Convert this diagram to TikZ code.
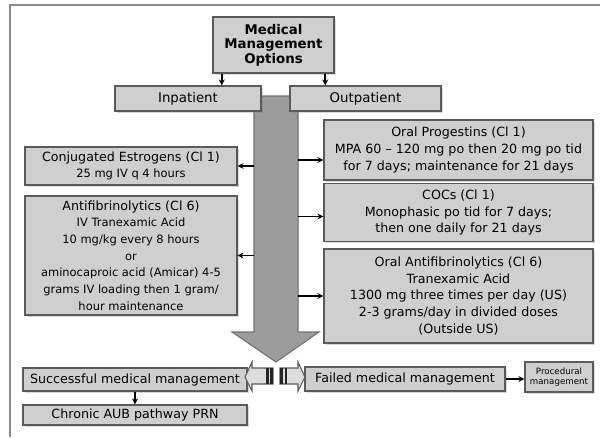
\documentclass[tikz,border=0pt]{standalone}
\usepackage{fontspec}
\setmainfont{DejaVu Sans}
\usetikzlibrary{arrows.meta,shadows}
\definecolor{boxfill}{HTML}{CFCFCF}
\definecolor{boxline}{HTML}{5A5A5A}
\definecolor{bigfill}{HTML}{9C9C9C}
\definecolor{bigline}{HTML}{707070}
\definecolor{framegray}{HTML}{8A8A8A}

\tikzset{
  box/.style={draw=boxline, fill=boxfill, line width=0.9pt, align=center, inner sep=1pt,
    drop shadow={shadow xshift=1.2pt, shadow yshift=-1.2pt, opacity=0.3},
    font=\fontsize{9.5}{12.5}\selectfont},
  sz/.style 2 args={minimum width=#1*0.75pt, minimum height=#2*0.75pt},
  arr/.style={-{Stealth[length=4.5pt,width=4.5pt]}, line width=1.25pt, black},
  hollow/.style={draw=boxline, fill=boxfill!70!white, line width=0.8pt},
  stripe/.style={fill=black!85},
}
\newcommand{\sml}{\fontsize{8.6}{11.5}\selectfont}

\begin{document}
\begin{tikzpicture}[x=0.75pt, y=-0.75pt]
\useasboundingbox (0,0) rectangle (600,437);
\draw[framegray, line width=1.5pt] (10,437) -- (10,5) -- (600,5);

% big arrow down the middle
\draw[bigline, line width=0.8pt, fill=bigfill]
  (254,96) -- (298,96) -- (298,332) -- (319,332) -- (276,362) -- (232,332) -- (254,332) -- cycle;
\coordinate (sl) at (254,96);
\coordinate (sr) at (298,96);

% top
\node[box, sz={121}{56}, font=\bfseries\fontsize{10}{11}\selectfont] (mmo) at (273.5,45) {Medical\\Management\\Options};
\node[box, sz={146}{25}, font=\fontsize{10}{12}\selectfont] (inpat) at (188,98.5) {Inpatient};
\node[box, sz={151}{25}, font=\fontsize{10}{12}\selectfont] (outpat) at (365.5,98.5) {Outpatient};

% inpatient side
\node[box, sz={212}{38}] (conj) at (131,166) {Conjugated Estrogens (Cl 1)\\{\sml 25 mg IV q 4 hours}};
\node[box, sz={212}{119}] (antif) at (131,255.5) {Antifibrinolytics (Cl 6)\\{\sml IV Tranexamic Acid}\\{\sml 10 mg/kg every 8 hours}\\{\sml or}\\{\sml aminocaproic acid (Amicar) 4-5}\\{\sml grams IV loading then 1 gram/}\\{\sml hour maintenance}};

% outpatient side
\node[box, sz={269}{60}] (prog) at (458.5,150) {Oral Progestins (Cl 1)\\MPA 60 -- 120 mg po then 20 mg po tid\\for 7 days; maintenance for 21 days};
\node[box, sz={269}{58}] (cocs) at (458.5,212.5) {COCs (Cl 1)\\Monophasic po tid for 7 days;\\then one daily for 21 days};
\node[box, sz={269}{94}] (oanti) at (458.5,296) {Oral Antifibrinolytics (Cl 6)\\Tranexamic Acid\\1300 mg three times per day (US)\\2-3 grams/day in divided doses\\(Outside US)};

% outcomes
\node[box, sz={224}{23}] (succ) at (135,379.5) {Successful medical management};
\node[box, sz={224}{20}] (chron) at (135,415) {Chronic AUB pathway PRN};
\node[box, sz={200}{24}] (fail) at (405,379) {Failed medical management};
\node[box, sz={68}{30}, font=\fontsize{6.5}{8}\selectfont] (proc) at (559,377) {Procedural\\management};

% striped block arrows
\draw[hollow] (245,377) -- (252,362) -- (252,368) -- (273,368) -- (273,384) -- (252,384) -- (252,391) -- cycle;
\fill[stripe] (266,368) rectangle (268.5,384);
\fill[stripe] (270,368) rectangle (273,384);
\draw[hollow] (305,377) -- (298,362) -- (298,368) -- (280,368) -- (280,384) -- (298,384) -- (298,391) -- cycle;
\fill[stripe] (280,368) rectangle (283,384);
\fill[stripe] (284.5,368) rectangle (287,384);

% connectors
\draw[arr] ([xshift=7pt]mmo.south west) -- ([xshift=7pt]mmo.south west |- inpat.north);
\draw[arr] ([xshift=-7pt]mmo.south east) -- ([xshift=-7pt]mmo.south east |- outpat.north);
\draw[arr] (sl |- conj.east) -- (conj.east);
\draw[arr] (sl |- antif.east) -- (antif.east);
\draw[arr] ([yshift=-7.5pt]sr |- prog.west) -- ([yshift=-7.5pt]prog.west);
\draw[arr] ([yshift=-3pt]sr |- cocs.west) -- ([yshift=-3pt]cocs.west);
\draw[arr] (sr |- oanti.west) -- (oanti.west);
\draw[arr] (succ) -- (chron);
\draw[arr] (fail.east) -- (fail.east -| proc.west);
\end{tikzpicture}
\end{document}
